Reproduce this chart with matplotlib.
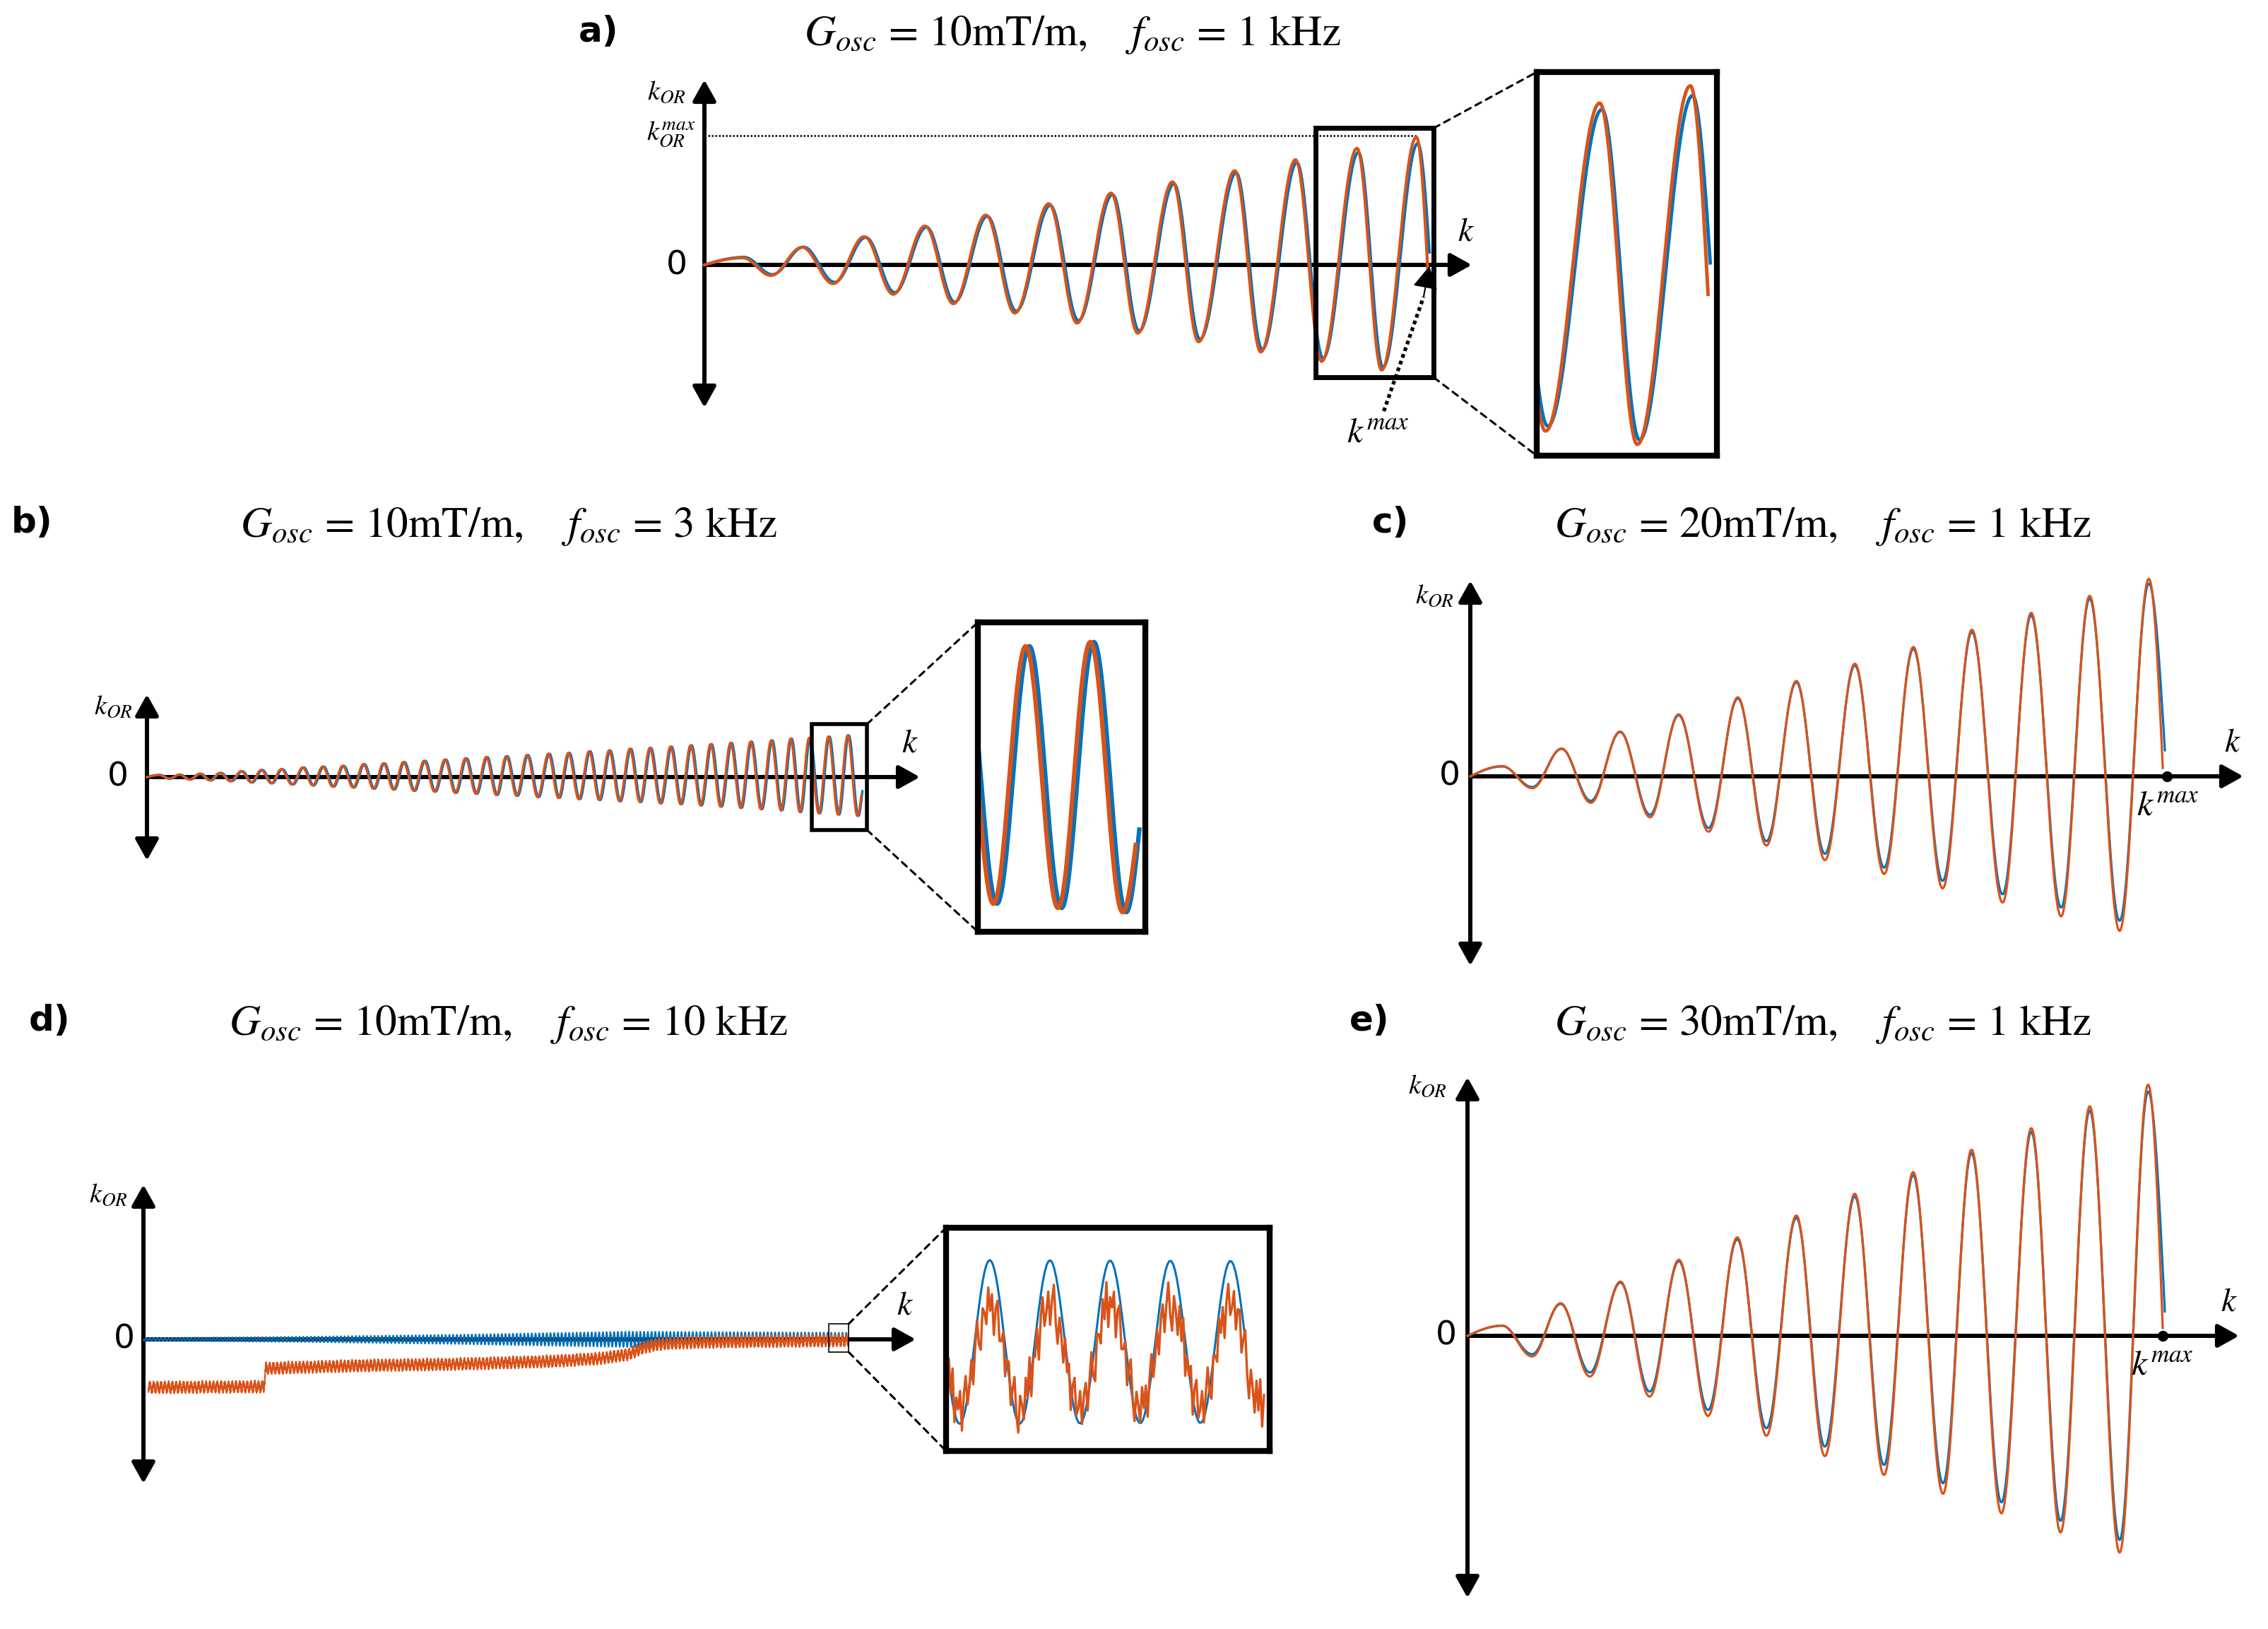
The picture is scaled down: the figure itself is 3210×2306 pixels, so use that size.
"""Oscillating-gradient k-space trajectories: k_OR against k for five settings."""

import matplotlib
matplotlib.use("Agg")
import matplotlib.pyplot as plt
import numpy as np
from matplotlib.patches import ConnectionPatch, Rectangle

plt.rcParams["mathtext.fontset"] = "stix"
plt.rcParams["font.family"] = ["DejaVu Sans"]

BLUE = "#0072BD"
ORANGE = "#D95319"

# ---------------------------------------------------------------- data
# k in units of k_max, k_OR in units of the last (largest) peak.
# Extrema are listed in order: peak, trough, peak, ...

# a) G = 10 mT/m, f = 1 kHz
a_ext_k = [0.053, 0.092, 0.135, 0.178, 0.221, 0.261, 0.305, 0.344, 0.389, 0.429,
           0.476, 0.515, 0.562, 0.599, 0.647, 0.683, 0.733, 0.769, 0.817, 0.853,
           0.902, 0.936, 0.984]
a_orange = [0.055, -0.083, 0.138, -0.147, 0.221, -0.230, 0.304, -0.304, 0.390, -0.377,
            0.479, -0.455, 0.562, -0.534, 0.650, -0.602, 0.737, -0.681, 0.823, -0.755,
            0.912, -0.823, 1.000]
a_blue = [0.060, -0.075, 0.140, -0.135, 0.215, -0.215, 0.295, -0.290, 0.380, -0.360,
          0.465, -0.435, 0.550, -0.515, 0.635, -0.580, 0.720, -0.660, 0.800, -0.730,
          0.880, -0.800, 0.950]
a_blue_lag = 0.002
a_end_k = [1.000, 1.002]      # orange, blue
a_end_v = [-0.06, 0.10]
a_korr_max = 1.01

# b) G = 10 mT/m, f = 3 kHz
b_peak_k = [0.017, 0.045, 0.074, 0.102, 0.132, 0.160, 0.188, 0.218, 0.246, 0.274,
            0.303, 0.331, 0.359, 0.388, 0.417, 0.446, 0.475, 0.503, 0.532, 0.562,
            0.590, 0.619, 0.647, 0.676, 0.704, 0.733, 0.761, 0.789, 0.817, 0.845,
            0.874, 0.901, 0.927, 0.954, 0.981]
b_peak_v = [0.05, 0.06, 0.08, 0.10, 0.14, 0.17, 0.19, 0.23, 0.25, 0.27,
            0.31, 0.33, 0.36, 0.39, 0.42, 0.45, 0.48, 0.50, 0.53, 0.56,
            0.58, 0.62, 0.64, 0.68, 0.70, 0.73, 0.76, 0.79, 0.82, 0.85,
            0.88, 0.92, 0.94, 0.97, 1.00]
b_trough_v = [-0.04, -0.06, -0.08, -0.10, -0.13, -0.15, -0.18, -0.20, -0.23, -0.25,
              -0.28, -0.30, -0.33, -0.35, -0.38, -0.40, -0.43, -0.45, -0.48, -0.50,
              -0.53, -0.55, -0.58, -0.60, -0.63, -0.65, -0.68, -0.71, -0.74, -0.77,
              -0.80, -0.84, -0.87, -0.90, -0.93]
b_blue_lag = 0.0015
b_end_k = [1.000, 1.000]
b_end_v = [-0.45, -0.34]

# c) G = 20 mT/m, f = 1 kHz
c_ext_k = [0.046, 0.089, 0.131, 0.173, 0.215, 0.258, 0.299, 0.342, 0.384, 0.425,
           0.468, 0.509, 0.552, 0.594, 0.636, 0.678, 0.720, 0.764, 0.805, 0.848,
           0.889, 0.932, 0.974]
c_orange = [0.052, -0.060, 0.141, -0.134, 0.227, -0.207, 0.314, -0.280, 0.400, -0.350,
            0.483, -0.424, 0.570, -0.494, 0.655, -0.567, 0.742, -0.639, 0.828, -0.709,
            0.914, -0.782, 1.000]
c_blue = [0.050, -0.054, 0.139, -0.124, 0.224, -0.194, 0.309, -0.261, 0.394, -0.328,
          0.476, -0.392, 0.561, -0.462, 0.645, -0.529, 0.730, -0.597, 0.815, -0.664,
          0.899, -0.731, 0.976]
c_end_k = [0.994, 0.997]
c_end_v = [0.042, 0.132]

# d) G = 10 mT/m, f = 10 kHz  (k_OR in units of the blue end amplitude)
d_trend_k = [0.007, 0.171, 0.174, 0.313, 0.448, 0.582, 0.650, 0.690, 0.710, 0.730,
             0.770, 0.851, 1.002]
d_trend_v = [-6.8, -6.7, -4.1, -3.7, -3.5, -3.1, -2.7, -2.1, -1.2, -0.7,
             -0.45, -0.3, -0.15]
d_blue_amp_k = [0.0, 0.24, 0.45, 0.69, 1.0]
d_blue_amp = [0.2, 0.4, 0.67, 1.1, 0.95]
d_period = 0.00532
d_trough_k = 0.9748
d_orange_amp = 0.6
d_noise = [0.18, -0.22, 0.05, 0.27, -0.12, -0.30, 0.14, 0.02, -0.19, 0.24,
           -0.07, 0.31, -0.25, 0.09, -0.02, 0.20, -0.28, 0.11, 0.26, -0.15,
           -0.04, 0.17, -0.23, 0.07, 0.29, -0.10, -0.27, 0.13, 0.01, -0.18,
           0.22, -0.06, 0.15, -0.29, 0.08, 0.25, -0.13, -0.03, 0.19, -0.21, 0.10]
d_end_k = [1.0017, 1.000]

# e) G = 30 mT/m, f = 1 kHz
e_ext_k = [0.050, 0.093, 0.134, 0.176, 0.220, 0.262, 0.304, 0.346, 0.388, 0.430,
           0.473, 0.514, 0.557, 0.599, 0.641, 0.684, 0.725, 0.768, 0.811, 0.853,
           0.895, 0.938, 0.979]
e_orange = [0.041, -0.082, 0.130, -0.162, 0.216, -0.242, 0.303, -0.319, 0.392, -0.398,
            0.479, -0.479, 0.566, -0.554, 0.652, -0.629, 0.741, -0.707, 0.827, -0.783,
            0.914, -0.863, 1.000]
e_blue = [0.040, -0.073, 0.127, -0.146, 0.212, -0.222, 0.297, -0.295, 0.384, -0.368,
          0.470, -0.441, 0.555, -0.514, 0.640, -0.587, 0.727, -0.663, 0.812, -0.737,
          0.897, -0.813, 0.973]
e_end_k = [1.000, 1.003]
e_end_v = [0.031, 0.097]

titles = {
    "a": r"$G_{osc}$ = 10mT/m,    $f_{osc}$ = 1 kHz",
    "b": r"$G_{osc}$ = 10mT/m,    $f_{osc}$ = 3 kHz",
    "c": r"$G_{osc}$ = 20mT/m,    $f_{osc}$ = 1 kHz",
    "d": r"$G_{osc}$ = 10mT/m,    $f_{osc}$ = 10 kHz",
    "e": r"$G_{osc}$ = 30mT/m,    $f_{osc}$ = 1 kHz",
}

# ---------------------------------------------------------------- layout (pixels)
W, H = 3210, 2306
GEO = {
    # rect = left, top, right, bottom; origin of the k / k_OR axes; px per unit;
    # tips = top of k_OR arrow, bottom of k_OR arrow, tip of k arrow
    "a": dict(rect=(880, 90, 2110, 600), origin=(997, 375), scale=(1024, 181),
              tips=(113, 577, 2083)),
    "b": dict(rect=(120, 960, 1330, 1240), origin=(208, 1100), scale=(1011, 59),
              tips=(983, 1218, 1302)),
    "c": dict(rect=(2000, 800, 3200, 1390), origin=(2081, 1099), scale=(986, 279.6),
              tips=(822, 1367, 3175)),
    "d": dict(rect=(120, 1660, 1330, 2120), origin=(203, 1896), scale=(996, 10),
              tips=(1677, 2100, 1296)),
    "e": dict(rect=(2000, 1500, 3200, 2290), origin=(2077, 1891), scale=(984, 355.4),
              tips=(1525, 2262, 3169)),
}
HEAD = "head_length=0.9,head_width=0.5"

fig = plt.figure(figsize=(W / 100, H / 100), dpi=100)


def px_axes(left, top, right, bottom):
    return fig.add_axes([left / W, 1 - bottom / H, (right - left) / W, (bottom - top) / H])


def ftext(x, y, s, **kw):
    kw.setdefault("ha", "center")
    kw.setdefault("va", "center")
    fig.text(x / W, 1 - y / H, s, **kw)


def panel(key):
    g = GEO[key]
    left, top, right, bottom = g["rect"]
    ox, oy = g["origin"]
    sx, sy = g["scale"]
    ax = px_axes(left, top, right, bottom)
    ax.set_xlim((left - ox) / sx, (right - ox) / sx)
    ax.set_ylim((oy - bottom) / sy, (oy - top) / sy)
    ax.set_axis_off()
    # arrowed axes
    ytop, ybot, xtip = g["tips"]
    props = dict(color="k", lw=4.3, shrinkA=0, shrinkB=0, mutation_scale=20)
    ax.annotate("", xy=(0, (oy - ytop) / sy), xytext=(0, (oy - ybot) / sy),
                arrowprops=dict(arrowstyle="<|-|>," + HEAD, **props), zorder=1)
    ax.annotate("", xy=((xtip - ox) / sx, 0), xytext=(0, 0),
                arrowprops=dict(arrowstyle="-|>," + HEAD, **props), zorder=1)
    return ax


def wave(ext_k, ext_v, end_k, end_v, n=60):
    """Smooth half-wave segments through the listed extrema."""
    ks = [0.0] + list(ext_k) + [end_k]
    vs = [0.0] + list(ext_v) + [end_v]
    last = len(ks) - 2
    out_k, out_v = [], []
    for i in range(len(ks) - 1):
        t = np.linspace(0, 1, n, endpoint=(i == last))
        if i == 0:
            s = np.sin(np.pi / 2 * t)
        elif i == last:
            s = 1 - np.cos(np.pi / 2 * t)
        else:
            s = (1 - np.cos(np.pi * t)) / 2
        out_k.append(ks[i] + (ks[i + 1] - ks[i]) * t)
        out_v.append(vs[i] + (vs[i + 1] - vs[i]) * s)
    return np.concatenate(out_k), np.concatenate(out_v)


def inset(rect, xlim, ylim, frame_lw=6):
    ax = px_axes(*rect)
    ax.set_xlim(*xlim)
    ax.set_ylim(*ylim)
    ax.set_xticks([])
    ax.set_yticks([])
    for sp in ax.spines.values():
        sp.set_linewidth(frame_lw)
        sp.set_color("k")
    return ax


def zoom_box(ax, axin, xlim, ylim, lw):
    ax.add_patch(Rectangle((xlim[0], ylim[0]), xlim[1] - xlim[0], ylim[1] - ylim[0],
                           fill=False, ec="k", lw=lw, zorder=5))
    for yb, yi in ((ylim[1], 1), (ylim[0], 0)):
        con = ConnectionPatch(xyA=(xlim[1], yb), coordsA=ax.transData,
                              xyB=(0, yi), coordsB=axin.transAxes,
                              color="k", lw=2.2, ls=(0, (3, 2.5)))
        fig.add_artist(con)


def axis_labels(kor_xy, zero_xy, k_xy, size=28):
    ftext(*kor_xy, r"$k_{OR}$", fontsize=size)
    ftext(*zero_xy, "0", fontsize=34)
    ftext(*k_xy, r"$k$", fontsize=34)


# ---------------------------------------------------------------- panel a
ax = panel("a")
ak_o, av_o = wave(a_ext_k, a_orange, a_end_k[0], a_end_v[0])
ak_b, av_b = wave(np.add(a_ext_k, a_blue_lag), a_blue, a_end_k[1], a_end_v[1])
ax.plot(ak_b, av_b, color=BLUE, lw=3.0, zorder=2)
ax.plot(ak_o, av_o, color=ORANGE, lw=3.0, zorder=3)
ax.plot([0, a_ext_k[-1]], [a_korr_max, a_korr_max], color="k", lw=1.8,
        ls=(0, (1, 1)), zorder=1)
# dotted pointer to k_max
ax.plot([0.939, 0.994], [-1.144, -0.25], color="k", lw=3.8, ls=(0, (1, 0.9)), zorder=6)
ax.annotate("", xy=(1.002, -0.01), xytext=(0.994, -0.25),
            arrowprops=dict(arrowstyle="-|>," + HEAD, color="k", lw=1.5,
                            shrinkA=0, shrinkB=0, mutation_scale=22), zorder=6)
a_xlim, a_ylim = (0.845, 1.008), (-0.88, 1.07)
axin = inset((2175, 102, 2430, 645), a_xlim, a_ylim)
axin.plot(ak_b, av_b, color=BLUE, lw=3.5)
axin.plot(ak_o, av_o, color=ORANGE, lw=3.5)
zoom_box(ax, axin, a_xlim, a_ylim, lw=5)
axis_labels((943, 130), (958, 376), (2075, 328))
ftext(950, 190, r"$k_{OR}^{max}$", fontsize=28)
ftext(1950, 612, r"$k^{max}$", fontsize=36)

# ---------------------------------------------------------------- panel b
ax = panel("b")
b_trough_k = [(p + q) / 2 for p, q in zip(b_peak_k[:-1], b_peak_k[1:])]
b_trough_k.append(b_peak_k[-1] + (b_peak_k[-1] - b_peak_k[-2]) / 2)
b_ext_k = [k for pair in zip(b_peak_k, b_trough_k) for k in pair]
b_ext_v = [v for pair in zip(b_peak_v, b_trough_v) for v in pair]
bk_o, bv_o = wave(b_ext_k, b_ext_v, b_end_k[0], b_end_v[0], n=30)
bk_b, bv_b = wave(np.add(b_ext_k, b_blue_lag), b_ext_v, b_end_k[1] + b_blue_lag,
                  b_end_v[1], n=30)
ax.plot(bk_b, bv_b, color=BLUE, lw=2.4, zorder=2)
ax.plot(bk_o, bv_o, color=ORANGE, lw=2.4, zorder=3)
b_box_x, b_box_y = (0.931, 1.008), (-1.27, 1.27)
axin = inset((1384, 881, 1621, 1319), (0.934, 1.004), (-1.07, 1.14))
axin.plot(bk_b, bv_b, color=BLUE, lw=4.5)
axin.plot(bk_o, bv_o, color=ORANGE, lw=4.5)
zoom_box(ax, axin, b_box_x, b_box_y, lw=4)
axis_labels((160, 1000), (167, 1100), (1288, 1052))

# ---------------------------------------------------------------- panel c
ax = panel("c")
ck_o, cv_o = wave(c_ext_k, c_orange, c_end_k[0], c_end_v[0])
ck_b, cv_b = wave(c_ext_k, c_blue, c_end_k[1], c_end_v[1])
ax.plot(ck_b, cv_b, color=BLUE, lw=2.3, zorder=2)
ax.plot(ck_o, cv_o, color=ORANGE, lw=2.3, zorder=3)
ax.plot([1.0], [0.0], "o", color="k", ms=10, zorder=4)
axis_labels((2030, 843), (2052, 1099), (3160, 1051))
ftext(3068, 1140, r"$k^{max}$", fontsize=36)

# ---------------------------------------------------------------- panel d
ax = panel("d")
dk_o = np.linspace(0.007, d_end_k[0], 6000)
dk_b = np.linspace(0.0, d_end_k[1], 6000)
d_phase_o = -np.cos(2 * np.pi * (dk_o - d_trough_k) / d_period)
d_phase_b = -np.cos(2 * np.pi * (dk_b - d_trough_k) / d_period)
dv_b = np.interp(dk_b, d_blue_amp_k, d_blue_amp) * d_phase_b
dv_o = (np.interp(dk_o, d_trend_k, d_trend_v) + d_orange_amp * d_phase_o
        + np.resize(d_noise, dk_o.size))
ax.plot(dk_b, dv_b, color=BLUE, lw=1.5, zorder=2)
ax.plot(dk_o, dv_o, color=ORANGE, lw=1.5, zorder=3)
d_xlim = (0.9736, 1.0022)
axin = inset((1339, 1738, 1797, 2054), d_xlim, (-1.28, 1.34))
axin.plot(dk_b, dv_b, color=BLUE, lw=2.2)
axin.plot(dk_o, dv_o, color=ORANGE, lw=2.4)
zoom_box(ax, axin, d_xlim, (-1.8, 2.2), lw=1.2)
axis_labels((153, 1691), (176, 1896), (1281, 1848))

# ---------------------------------------------------------------- panel e
ax = panel("e")
ek_o, ev_o = wave(e_ext_k, e_orange, e_end_k[0], e_end_v[0])
ek_b, ev_b = wave(e_ext_k, e_blue, e_end_k[1], e_end_v[1])
ax.plot(ek_b, ev_b, color=BLUE, lw=2.3, zorder=2)
ax.plot(ek_o, ev_o, color=ORANGE, lw=2.3, zorder=3)
ax.plot([1.0], [0.0], "o", color="k", ms=10, zorder=4)
axis_labels((2020, 1537), (2047, 1891), (3155, 1843))
ftext(3060, 1932, r"$k^{max}$", fontsize=36)

# ---------------------------------------------------------------- titles
for key, (lx, ly, tx, base) in {
    "a": (847, 45, 1518, 64),
    "b": (45, 740, 720, 760),
    "c": (1968, 740, 2580, 760),
    "d": (70, 1445, 720, 1465),
    "e": (1938, 1445, 2580, 1465),
}.items():
    ftext(lx, ly, f"{key})", fontsize=36, fontweight="bold")
    ftext(tx, base, titles[key], fontsize=44, family="STIXGeneral", va="baseline")

fig.savefig("out.png", dpi=100, facecolor="white")
